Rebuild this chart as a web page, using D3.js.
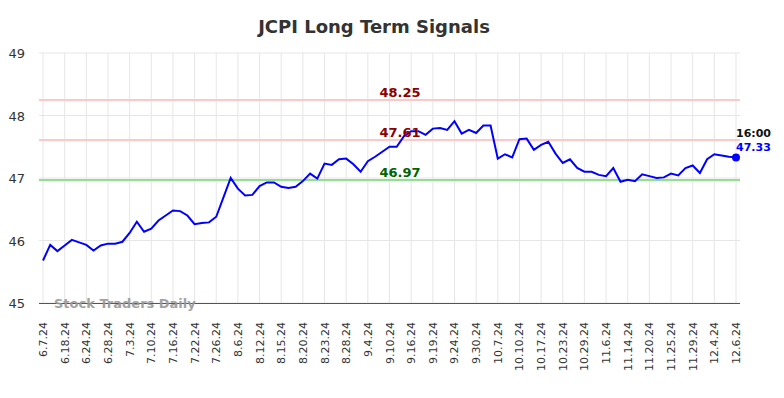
<!DOCTYPE html>
<html><head><meta charset="utf-8">
<script src="https://cdn.jsdelivr.net/npm/d3@7"></script>
<style>body{margin:0;background:#fff}svg{display:block;font-family:"DejaVu Sans",sans-serif}</style>
</head><body><svg id="c" width="784" height="398"></svg>
<script>
const tickLabels = ["6.7.24","6.18.24","6.24.24","6.28.24","7.3.24","7.10.24","7.16.24","7.22.24","7.26.24","8.6.24","8.12.24","8.15.24","8.20.24","8.23.24","8.28.24","9.4.24","9.10.24","9.16.24","9.19.24","9.24.24","9.30.24","10.7.24","10.10.24","10.17.24","10.23.24","10.29.24","11.6.24","11.14.24","11.20.24","11.25.24","11.29.24","12.4.24","12.6.24"];
const prices = [45.68,45.93,45.83,45.92,46.01,45.97,45.93,45.84,45.92,45.95,45.95,45.98,46.12,46.30,46.14,46.19,46.32,46.40,46.48,46.47,46.40,46.26,46.28,46.29,46.38,46.69,47.00,46.83,46.72,46.73,46.87,46.93,46.93,46.86,46.84,46.86,46.95,47.07,46.99,47.23,47.21,47.30,47.31,47.22,47.10,47.27,47.34,47.42,47.50,47.50,47.67,47.75,47.75,47.69,47.79,47.80,47.77,47.91,47.71,47.77,47.72,47.84,47.84,47.31,47.38,47.33,47.62,47.63,47.45,47.53,47.58,47.39,47.24,47.30,47.16,47.10,47.10,47.05,47.03,47.16,46.94,46.97,46.95,47.06,47.03,47.00,47.01,47.07,47.04,47.16,47.20,47.08,47.30,47.38,47.36,47.34,47.33];
const yTicks = [45,46,47,48,49];
const levels = [48.25,47.61,46.97];
const levelKinds = ["resist","resist","support"];
const lastTime = "16:00";
const title = "JCPI Long Term Signals";
const watermark = "Stock Traders Daily";

const svg = d3.select("#c");
const pLeft = 39, pRight = 740, pTop = 53, pBottom = 303;
const x = d3.scaleLinear().domain([0, prices.length - 1]).range([43, 736]);
const y = d3.scaleLinear().domain([45, 49]).range([pBottom, pTop]);
const tickIdx = tickLabels.map((d, i) => i * 3);

// grid
svg.append("g").selectAll("line").data(yTicks).join("line")
  .attr("x1", pLeft).attr("x2", pRight).attr("y1", d => y(d)).attr("y2", d => y(d))
  .attr("stroke", "#e6e6e6").attr("stroke-width", 1);
svg.append("g").selectAll("line").data(tickIdx).join("line")
  .attr("x1", d => x(d)).attr("x2", d => x(d)).attr("y1", pTop).attr("y2", pBottom)
  .attr("stroke", "#e6e6e6").attr("stroke-width", 1);

// y labels
svg.append("g").selectAll("text").data(yTicks).join("text")
  .attr("x", 25).attr("y", d => y(d) + 5).attr("text-anchor", "end")
  .attr("font-size", 13).attr("fill", "#333").text(d => d);

// x axis line
svg.append("line").attr("x1", pLeft).attr("x2", pRight).attr("y1", pBottom + 0.5).attr("y2", pBottom + 0.5)
  .attr("stroke", "#555").attr("stroke-width", 1);

// x labels
svg.append("g").selectAll("text").data(tickLabels).join("text")
  .attr("transform", (d, i) => `translate(${x(tickIdx[i]) + 4},${pBottom + 19}) rotate(-90)`)
  .attr("text-anchor", "end").attr("font-size", 11).attr("fill", "#333").text(d => d);

// level lines
svg.append("g").selectAll("line").data(levels).join("line")
  .attr("x1", pLeft).attr("x2", pRight).attr("y1", d => y(d)).attr("y2", d => y(d))
  .attr("stroke", (d, i) => levelKinds[i] === "support" ? "#90e090" : "#ffc8c8").attr("stroke-width", 2);

// watermark
svg.append("text").attr("x", 54).attr("y", 308).attr("font-size", 13).attr("font-weight", "bold")
  .attr("fill", "#999").attr("opacity", 0.9).text(watermark);

// line
svg.append("path").datum(prices)
  .attr("d", d3.line().x((d, i) => x(i)).y(d => y(d)))
  .attr("fill", "none").attr("stroke", "#0000ff").attr("stroke-width", 2);

// level labels
svg.append("g").selectAll("text").data(levels).join("text")
  .attr("x", 400).attr("y", (d, i) => y(d) - 3).attr("text-anchor", "middle")
  .attr("font-size", 13).attr("font-weight", "bold")
  .attr("fill", (d, i) => levelKinds[i] === "support" ? "#006400" : "#8b0000").text(d => d.toFixed(2));

// last point
const li = prices.length - 1;
svg.append("circle").attr("cx", x(li)).attr("cy", y(prices[li])).attr("r", 4).attr("fill", "#0000ff");
svg.append("text").attr("x", x(li)).attr("y", y(prices[li]) - 20).attr("font-size", 11).attr("font-weight", "bold")
  .attr("fill", "#111").text(lastTime);
svg.append("text").attr("x", x(li)).attr("y", y(prices[li]) - 6).attr("font-size", 11).attr("font-weight", "bold")
  .attr("fill", "#0000ff").text(prices[li].toFixed(2));

// title
svg.append("text").attr("x", 374).attr("y", 33).attr("text-anchor", "middle")
  .attr("font-size", 18).attr("font-weight", "bold").attr("fill", "#333").text(title);
</script></body></html>
